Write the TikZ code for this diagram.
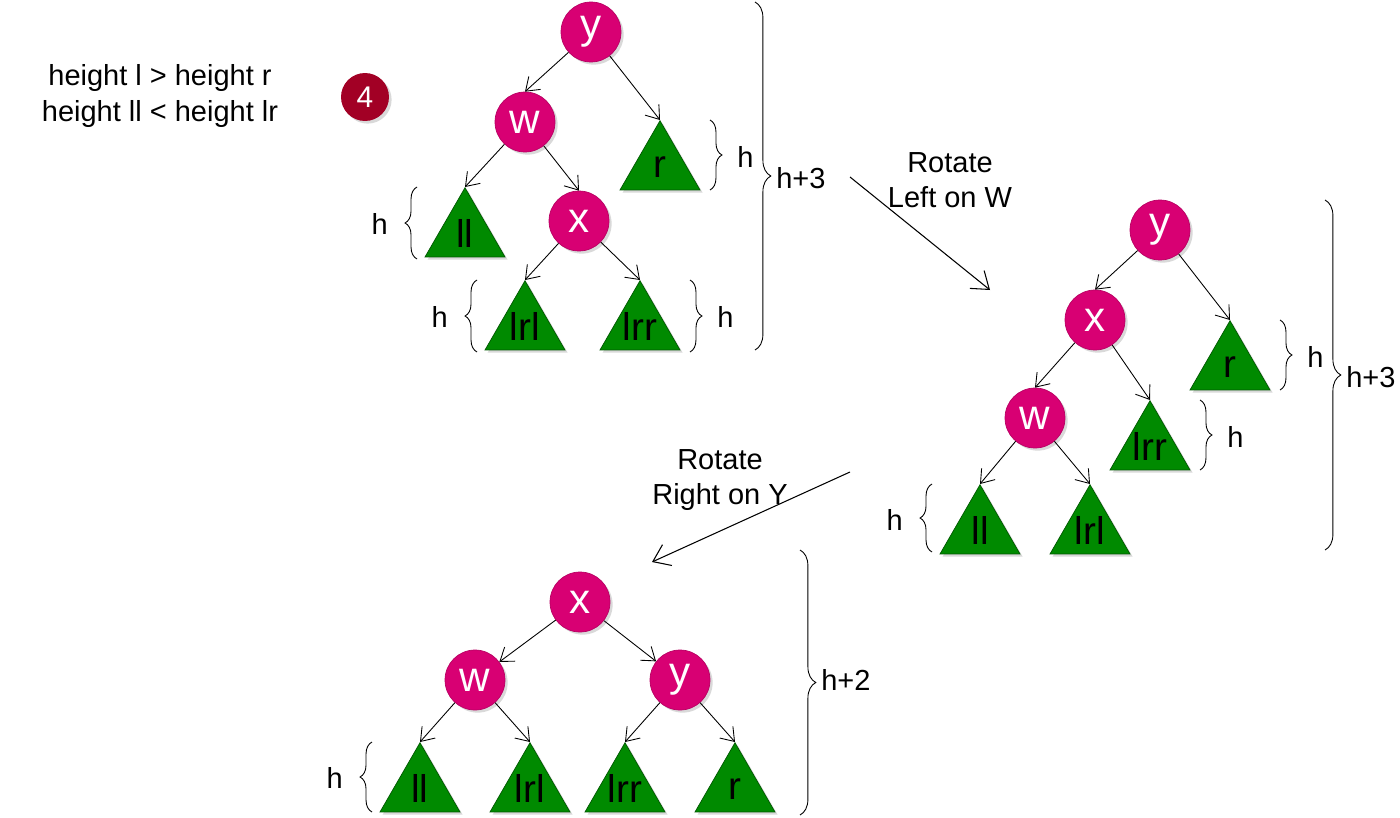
\documentclass[tikz,border=0pt]{standalone}
\usepackage{fontspec}
\setmainfont{Liberation Sans}
\usepackage{tikz}
\usetikzlibrary{arrows.meta,shapes.geometric,decorations.pathreplacing,shadows}
\definecolor{keymagenta}{HTML}{D80073}
\definecolor{treegreen}{HTML}{008A00}
\definecolor{treeline}{HTML}{005700}
\definecolor{badgered}{HTML}{A20025}
\tikzstyle{key}=[
circle,
fill=keymagenta,
draw=keymagenta!85!black,
minimum size=1.2cm,
inner sep=0pt,
text=white,
font=\fontsize{24}{28}\selectfont,
drop shadow={shadow xshift=1.5pt,shadow yshift=-1.5pt,opacity=0.25,fill=black!60}
]
\tikzstyle{subtree}=[
regular polygon,
regular polygon sides=3,
minimum size=1.848cm,
inner sep=-6pt,
anchor=corner 1,
fill=treegreen,
draw=treeline,
font=\fontsize{22}{26}\selectfont,
drop shadow={shadow xshift=1.5pt,shadow yshift=-1.5pt,opacity=0.25,fill=black!60}
]
\tikzstyle{link}=[
line width=0.5pt,
-{Straight Barb[length=7pt,width=10pt]}
]
\tikzstyle{rotarrow}=[
line width=0.6pt,
-{Straight Barb[length=9pt,width=13pt]}
]
\tikzstyle{smallbrace}=[
decorate,
decoration={brace,amplitude=6.8pt},
line width=0.5pt
]
\tikzstyle{bigbrace}=[
decorate,
decoration={brace,amplitude=9pt},
line width=0.5pt
]
\tikzstyle{lbl}=[
font=\fontsize{16.5}{20}\selectfont,
inner sep=0pt
]

\begin{document}
\begin{tikzpicture}[x=0.02cm,y=-0.02cm]
\useasboundingbox (0,0) rectangle (1400,818);

\node (cond) [lbl, align=center] at (160,96) {height l > height r\\height ll < height lr};
\node (badge) [circle, fill=badgered, minimum size=0.96cm, inner sep=0pt, text=white,
  font=\fontsize{17}{20}\selectfont,
  drop shadow={shadow xshift=1.5pt,shadow yshift=-1.5pt,opacity=0.25,fill=black!60}] at (365,97) {4};

\node (y1) [key] at (591,32) {y};
\node (w1) [key] at (525,122) {w};
\node (x1) [key] at (579,221) {x};
\node (r1) [subtree] at (660,120) {r};
\node (ll1) [subtree] at (465,187) {ll};
\node (lrl1) [subtree] at (525,280) {lrl};
\node (lrr1) [subtree] at (640,280) {lrr};

\draw [link] (y1) -- (w1.north);
\draw [link] (y1) -- (r1.corner 1);
\draw [link] (w1) -- (ll1.corner 1);
\draw [link] (w1) -- (x1.north);
\draw [link] (x1) -- (lrl1.corner 1);
\draw [link] (x1) -- (lrr1.corner 1);

\draw [smallbrace] (710,120) -- (710,190);
\draw [smallbrace] (417,259) -- (417,187);
\draw [smallbrace] (477,352) -- (477,280);
\draw [smallbrace] (690,280) -- (690,352);
\draw [bigbrace] (755,2) -- (755,350);
\node (hr1) [lbl, anchor=west] at (737,157) {h};
\node (hll1) [lbl, anchor=east] at (388,224) {h};
\node (hlrl1) [lbl, anchor=east] at (448,317) {h};
\node (hlrr1) [lbl, anchor=west] at (717,317) {h};
\node (htot1) [lbl, anchor=west] at (776,178) {h+3};

\coordinate (rotl-start) at (850,177);
\coordinate (rotl-end) at (990,290);
\draw [rotarrow] (rotl-start) -- (rotl-end);
\node (rotl) [lbl, align=center] at (950,180) {Rotate\\Left on W};

\node (y2) [key] at (1160,230) {y};
\node (x2) [key] at (1095,320) {x};
\node (w2) [key] at (1035,418) {w};
\node (r2) [subtree] at (1230,320) {r};
\node (lrr2) [subtree] at (1150,400) {lrr};
\node (ll2) [subtree] at (980,484) {ll};
\node (lrl2) [subtree] at (1090,484) {lrl};

\draw [link] (y2) -- (x2.north);
\draw [link] (y2) -- (r2.corner 1);
\draw [link] (x2) -- (w2.north);
\draw [link] (x2) -- (lrr2.corner 1);
\draw [link] (w2) -- (ll2.corner 1);
\draw [link] (w2) -- (lrl2.corner 1);

\draw [smallbrace] (1280,320) -- (1280,390);
\draw [smallbrace] (1200,400) -- (1200,470);
\draw [smallbrace] (932,552) -- (932,484);
\draw [bigbrace] (1325,200) -- (1325,550);
\node (hr2) [lbl, anchor=west] at (1307,357) {h};
\node (hlrr2) [lbl, anchor=west] at (1227,437) {h};
\node (hll2) [lbl, anchor=east] at (903,520) {h};
\node (htot2) [lbl, anchor=west] at (1346,377) {h+3};

\coordinate (rotr-start) at (850,472);
\coordinate (rotr-end) at (652,562);
\draw [rotarrow] (rotr-start) -- (rotr-end);
\node (rotr) [lbl, align=center] at (720,480) {Rotate\\Right on Y};

\node (x3) [key] at (580,602) {x};
\node (w3) [key] at (475,680) {w};
\node (y3) [key] at (680,680) {y};
\node (ll3) [subtree] at (420,742) {ll};
\node (lrl3) [subtree] at (530,742) {lrl};
\node (lrr3) [subtree] at (625,742) {lrr};
\node (r3) [subtree] at (735,742) {r};

\draw [link] (x3) -- (w3);
\draw [link] (x3) -- (y3);
\draw [link] (w3) -- (ll3.corner 1);
\draw [link] (w3) -- (lrl3.corner 1);
\draw [link] (y3) -- (lrr3.corner 1);
\draw [link] (y3) -- (r3.corner 1);

\draw [smallbrace] (372,812) -- (372,742);
\draw [bigbrace] (800,550) -- (800,815);
\node (hll3) [lbl, anchor=east] at (343,778) {h};
\node (htot3) [lbl, anchor=west] at (821,680) {h+2};

\end{tikzpicture}
\end{document}
